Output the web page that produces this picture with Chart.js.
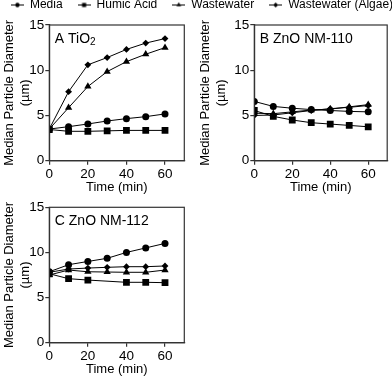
<!DOCTYPE html>
<html>
<head>
<meta charset="utf-8">
<script src="https://cdn.jsdelivr.net/npm/chart.js@4/dist/chart.umd.min.js"></script>
<style>
  html, body { margin: 0; padding: 0; background: #fff; }
  #wrap { position: relative; width: 392px; height: 377px; overflow: hidden; background: #fff; }
  #wrap canvas { position: absolute; }
</style>
</head>
<body>
<div id="wrap">
  <canvas id="legend" width="440" height="100" style="left:-18px;top:-16px"></canvas>
  <canvas id="panelA" width="196" height="181" style="left:0;top:14px"></canvas>
  <canvas id="panelB" width="196" height="181" style="left:196px;top:14px"></canvas>
  <canvas id="panelC" width="196" height="181" style="left:0;top:196px"></canvas>
</div>
<script>
"use strict";
var times = [0, 10, 20, 30, 40, 50, 60];
var xTicks = [0, 20, 40, 60];
var yTicks = [0, 5, 10, 15];
var seriesNames = ["Media", "Humic Acid", "Wastewater", "Wastewater (Algae)"];

// A: TiO2
var mediaA = [3.5, 3.76, 4.06, 4.39, 4.65, 4.87, 5.17];
var humicA = [3.45, 3.25, 3.25, 3.3, 3.35, 3.35, 3.35];
var wasteA = [3.5, 5.86, 8.2, 9.85, 10.95, 11.77, 12.5];
var algaeA = [3.5, 7.63, 10.6, 11.4, 12.3, 13.0, 13.5];
// B: ZnO NM-110
var mediaB = [6.55, 6.0, 5.8, 5.65, 5.55, 5.45, 5.4];
var humicB = [5.55, 4.9, 4.5, 4.2, 4.05, 3.9, 3.75];
var wasteB = [5.25, 5.2, 5.4, 5.6, 5.7, 5.95, 6.2];
var algaeB = [5.0, 5.05, 5.3, 5.55, 5.75, 5.9, 6.1];
// C: ZnO NM-112 (no humic acid reading at 30 min)
var mediaC = [7.86, 8.64, 9.0, 9.35, 10.0, 10.5, 11.0];
var humicC = [7.64, 7.09, 6.94, null, 6.69, 6.69, 6.65];
var wasteC = [7.5, 8.05, 7.86, 7.83, 7.8, 7.8, 8.05];
var algaeC = [7.8, 8.16, 8.27, 8.35, 8.42, 8.42, 8.5];

var FONT = "'Liberation Sans', Arial, Helvetica, sans-serif";
var INK = "#000";
var AXIS = "#333";
var markers = [
  { pointStyle: "circle", radius: 3.5, small: 2.2 },
  { pointStyle: "rect", radius: 4.8, small: 2.9 },
  { pointStyle: "triangle", radius: 4.2, small: 2.7 },
  { pointStyle: "rectRot", radius: 3.4, small: 2.5 }
];

function points(vals) {
  return vals.map(function (v, i) { return { x: times[i], y: v }; });
}

function datasets(list) {
  return list.map(function (vals, i) {
    return {
      label: seriesNames[i],
      data: points(vals),
      borderColor: INK,
      backgroundColor: INK,
      borderWidth: 1,
      pointStyle: markers[i].pointStyle,
      pointRadius: markers[i].radius,
      pointBorderWidth: 0,
      pointBackgroundColor: INK,
      spanGaps: true,
      tension: 0
    };
  });
}

var framePlugin = {
  id: "frame",
  afterDraw: function (chart, args, opts) {
    if (!opts.enabled) return;
    var a = chart.chartArea, ctx = chart.ctx;
    ctx.save();
    ctx.strokeStyle = AXIS;
    ctx.lineWidth = 1.2;
    ctx.strokeRect(a.left, a.top, a.right - a.left, a.bottom - a.top);
    ctx.restore();
  }
};

var labelPlugin = {
  id: "panelLabel",
  afterDraw: function (chart, args, opts) {
    if (!opts.text) return;
    var a = chart.chartArea, ctx = chart.ctx;
    var x = a.left + 5.5, y = a.top + 17.5;
    ctx.save();
    ctx.fillStyle = INK;
    ctx.textBaseline = "alphabetic";
    ctx.textAlign = "left";
    ctx.font = "14px " + FONT;
    ctx.fillText(opts.text, x, y);
    if (opts.sub) {
      var w = ctx.measureText(opts.text).width;
      ctx.font = "10px " + FONT;
      ctx.fillText(opts.sub, x + w, y + 2.5);
    }
    ctx.restore();
  }
};

function panel(id, series, label, sub, yWidth, padTop, padRight) {
  var canvas = document.getElementById(id);
  return new Chart(canvas, {
    type: "line",
    data: { datasets: datasets(series) },
    plugins: [framePlugin, labelPlugin],
    options: {
      responsive: false,
      animation: false,
      events: [],
      layout: { padding: { top: padTop, right: padRight, left: 0, bottom: 0 } },
      plugins: {
        legend: { display: false },
        tooltip: { enabled: false },
        frame: { enabled: true },
        panelLabel: { text: label, sub: sub }
      },
      scales: {
        x: {
          type: "linear",
          min: 0,
          max: 70,
          afterBuildTicks: function (s) { s.ticks = xTicks.map(function (v) { return { value: v }; }); },
          afterFit: function (s) { s.height = 34.3; },
          border: { display: true, color: AXIS, width: 1.2 },
          grid: { drawOnChartArea: false, drawTicks: true, tickLength: 4, color: AXIS, lineWidth: 1.2 },
          ticks: { color: INK, font: { family: FONT, size: 13.5 }, padding: 1, maxRotation: 0 },
          title: { display: true, text: "Time (min)", color: INK, font: { family: FONT, size: 13 }, padding: 0 }
        },
        y: {
          type: "linear",
          min: 0,
          max: 15,
          afterBuildTicks: function (s) { s.ticks = yTicks.map(function (v) { return { value: v }; }); },
          afterFit: function (s) { s.width = yWidth; },
          border: { display: true, color: AXIS, width: 1.2 },
          grid: { drawOnChartArea: false, drawTicks: true, tickLength: 4, color: AXIS, lineWidth: 1.2 },
          ticks: { color: INK, font: { family: FONT, size: 13.5 }, padding: 1 },
          title: {
            display: true,
            text: ["Median Particle Diameter", "(\u00b5m)"],
            color: INK,
            font: { family: FONT, size: 13, lineHeight: 1.3 },
            padding: { top: 0.5, bottom: 0 }
          }
        }
      }
    }
  });
}

function legendIcon(m) {
  var c = document.createElement("canvas");
  c.width = 13; c.height = 9;
  var ctx = c.getContext("2d");
  ctx.strokeStyle = INK;
  ctx.fillStyle = INK;
  ctx.lineWidth = 1;
  ctx.beginPath();
  ctx.moveTo(0, 4.5);
  ctx.lineTo(13, 4.5);
  ctx.stroke();
  if (Chart.helpers && Chart.helpers.drawPoint) {
    Chart.helpers.drawPoint(ctx, { pointStyle: m.pointStyle, radius: m.small, rotation: 0, borderWidth: 0 }, 6.5, 4.5);
  } else {
    ctx.beginPath();
    ctx.arc(6.5, 4.5, m.small, 0, Math.PI * 2);
    ctx.fill();
  }
  return c;
}

new Chart(document.getElementById("legend"), {
  type: "line",
  data: {
    datasets: seriesNames.map(function (name) { return { label: name, data: [] }; })
  },
  options: {
    responsive: false,
    animation: false,
    events: [],
    layout: { padding: 0 },
    scales: { x: { display: false }, y: { display: false } },
    plugins: {
      tooltip: { enabled: false },
      legend: {
        display: true,
        position: "top",
        labels: {
          usePointStyle: true,
          pointStyleWidth: 13,
          padding: 15,
          color: INK,
          font: { family: FONT, size: 12 },
          generateLabels: function () {
            return seriesNames.map(function (name, i) {
              return {
                text: name,
                pointStyle: legendIcon(markers[i]),
                fillStyle: INK,
                strokeStyle: INK,
                lineWidth: 0,
                hidden: false,
                datasetIndex: i,
                fontColor: INK
              };
            });
          }
        }
      }
    }
  }
});

panel("panelA", [mediaA, humicA, wasteA, algaeA], "A TiO", "2", 49.3, 11, 11.7);
panel("panelB", [mediaB, humicB, wasteB, algaeB], "B ZnO NM-110", "", 58.3, 11, 2.7);
panel("panelC", [mediaC, humicC, wasteC, algaeC], "C ZnO NM-112", "", 49.3, 11.3, 11.7);
</script>
</body>
</html>
